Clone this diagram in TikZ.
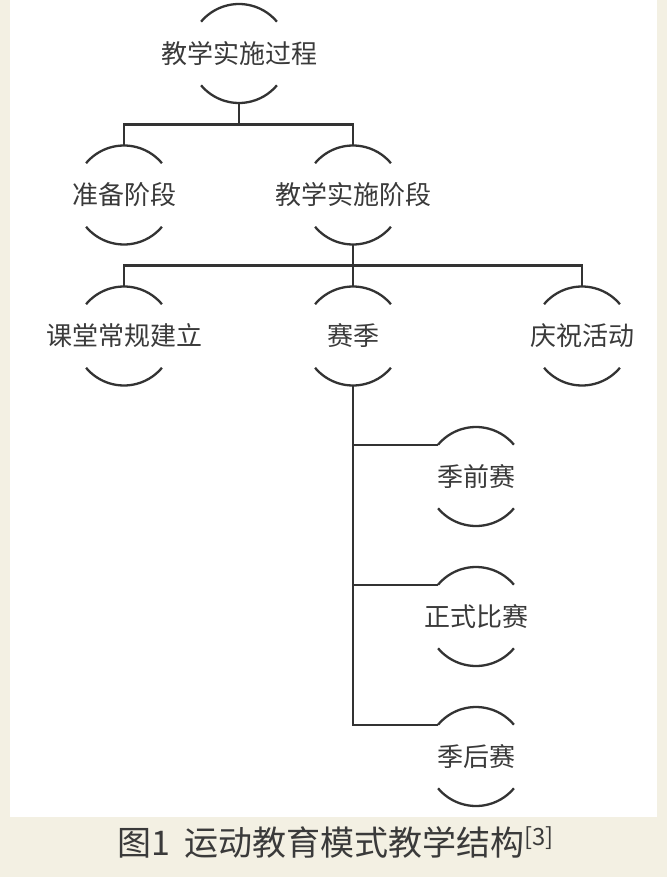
\documentclass[tikz,border=0pt]{standalone}
\usepackage{fontspec}
\newfontfamily\cjk{Noto Sans CJK SC}
\usetikzlibrary{calc}
\definecolor{bgbeige}{HTML}{F3F0E3}
\definecolor{ink}{HTML}{333333}
\definecolor{txt}{HTML}{3A3A3A}
\begin{document}
\begin{tikzpicture}[x=1pt,y=1pt,
  bub/.style={inner sep=0pt, text=txt, font=\cjk\fontsize{26}{30}\selectfont},
  conn/.style={draw=ink, line width=2.3pt},
  arcline/.style={draw=ink, line width=2.3pt},
  captext/.style={inner sep=0pt, text=txt, font=\cjk\fontsize{34}{40}\selectfont}]
\useasboundingbox (0,0) rectangle (667,-877);
\fill[bgbeige] (0,0) rectangle (667,-877);
\fill[white] (10,0) rectangle (657,-817);

\node[bub] (a) at (239,-53.5) {教学实施过程};
\node[bub] (b) at (124,-195) {准备阶段};
\node[bub] (c) at (353,-195) {教学实施阶段};
\node[bub] (d) at (124,-336) {课堂常规建立};
\node[bub] (e) at (353,-336) {赛季};
\node[bub] (f) at (582,-336) {庆祝活动};
\node[bub] (g) at (476,-476.5) {季前赛};
\node[bub] (h) at (476,-616.5) {正式比赛};
\node[bub] (i) at (476,-756.5) {季后赛};

\foreach \n in {a,b,c,d,e,f,g,h,i}{
  \draw[arcline] ($(\n.center)+(140:49.5)$) arc[start angle=140,end angle=40,radius=49.5];
  \draw[arcline] ($(\n.center)+(220:49.5)$) arc[start angle=220,end angle=320,radius=49.5];
  \coordinate (\n-t) at ($(\n.center)+(0,49.5)$);
  \coordinate (\n-b) at ($(\n.center)+(0,-49.5)$);
  \coordinate (\n-l) at ($(\n.center)+(140:49.5)$);
}

% level 1 -> 2
\draw[conn] (a-b) -- ++(0,-21.5) coordinate (j1);
\draw[conn] (b-t) |- (j1) -| (c-t);
% level 2 -> 3
\draw[conn] (c-b) -- ++(0,-21) coordinate (j2);
\draw[conn] (d-t) |- (j2) -| (f-t);
\draw[conn] (j2) -- (e-t);
% level 3 -> 4
\draw[conn] (e-b) |- (i-l);
\draw[conn] (e-b |- g-l) -- (g-l);
\draw[conn] (e-b |- h-l) -- (h-l);

\node[captext] (caption) at (336,-842) {图1\hspace{14pt}运动教育模式教学结构\textsuperscript{[3]}};
\end{tikzpicture}
\end{document}
